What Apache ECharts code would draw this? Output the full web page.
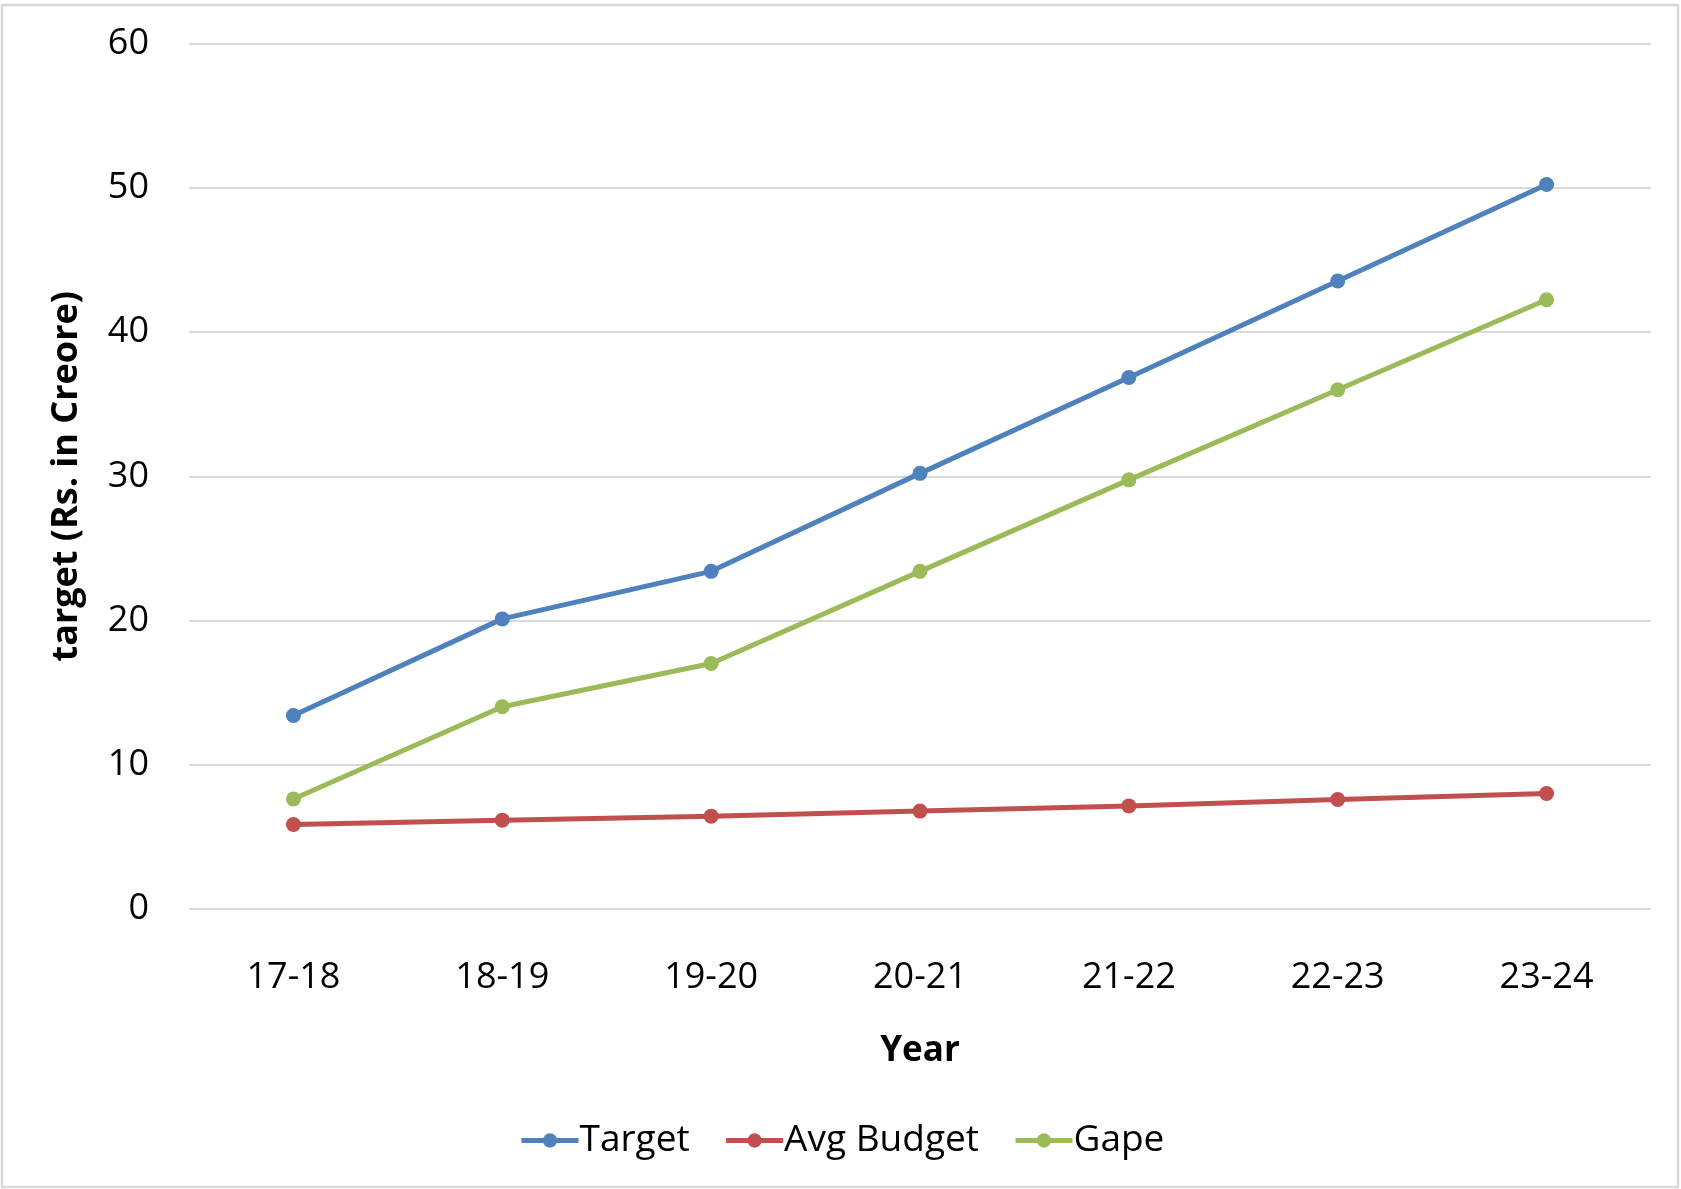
<!DOCTYPE html>
<html>
<head>
<meta charset="utf-8">
<script src="https://cdn.jsdelivr.net/npm/echarts@6/dist/echarts.min.js"></script>
<style>
  html, body { margin: 0; padding: 0; background: #fff; }
  #chart { width: 1681px; height: 1189px; }
</style>
</head>
<body>
<div id="chart"></div>
<script>
// 数据
const years = ['17-18', '18-19', '19-20', '20-21', '21-22', '22-23', '23-24'];
const target = [13.4, 20.1, 23.4, 30.2, 36.85, 43.55, 50.25];
const avgBudget = [5.83, 6.13, 6.41, 6.76, 7.12, 7.57, 7.98];
const gape = [7.6, 14.0, 17.0, 23.4, 29.75, 36.0, 42.25];
const yTicks = [0, 60, 10]; // min, max, interval

const font = '"Open Sans", "Noto Sans", sans-serif';
const chart = echarts.init(document.getElementById('chart'));

function line(name, data, color) {
  return {
    name: name,
    type: 'line',
    data: data,
    symbol: 'circle',
    symbolSize: 15,
    lineStyle: { color: color, width: 5 },
    itemStyle: { color: color },
    emphasis: { disabled: true },
    animation: false,
  };
}

chart.setOption({
  backgroundColor: '#fff',
  animation: false,
  textStyle: { fontFamily: font },
  grid: { left: 189, right: 30, top: 44, bottom: 280.5, containLabel: false },
  graphic: [{
    type: 'rect',
    shape: { x: 2, y: 5, width: 1676, height: 1182 },
    style: { fill: 'none', stroke: '#d9d9d9', lineWidth: 2.5 },
    silent: true,
  }],
  legend: {
    left: 514,
    top: 1117,
    itemWidth: 57,
    itemHeight: 18,
    itemGap: 34,
    lineStyle: { width: 5 },
    textStyle: { fontFamily: font, fontSize: 37, color: '#000', padding: [0, 0, 0, -4] },
    data: ['Target', 'Avg Budget', 'Gape'],
  },
  xAxis: {
    type: 'category',
    data: years,
    boundaryGap: true,
    name: 'Year',
    nameLocation: 'middle',
    nameGap: 125,
    nameTextStyle: { fontFamily: font, fontSize: 35, fontWeight: 'bold', color: '#000' },
    axisLine: { show: false },
    axisTick: { show: false },
    axisLabel: { fontFamily: font, fontSize: 36, color: '#000', margin: 51 },
  },
  yAxis: {
    type: 'value',
    min: yTicks[0],
    max: yTicks[1],
    interval: yTicks[2],
    name: 'target (Rs. in Creore)',
    nameLocation: 'middle',
    nameGap: 104,
    nameTextStyle: { fontFamily: font, fontSize: 36, fontWeight: 'bold', color: '#000' },
    axisLine: { show: false },
    axisTick: { show: false },
    axisLabel: { fontFamily: font, fontSize: 36, color: '#000', margin: 40 },
    splitLine: { lineStyle: { color: '#d9d9d9', width: 2 } },
  },
  series: [
    line('Target', target, '#4f81bd'),
    line('Avg Budget', avgBudget, '#c0504d'),
    line('Gape', gape, '#9bbb59'),
  ],
});
</script>
</body>
</html>
